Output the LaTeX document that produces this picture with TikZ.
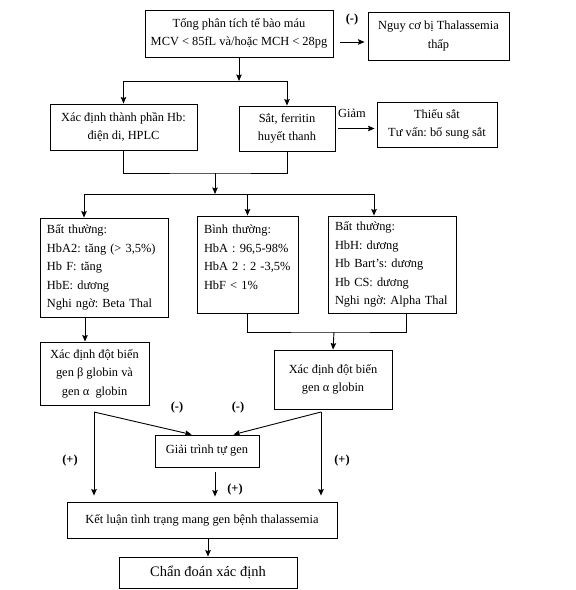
\documentclass[tikz,border=0pt]{standalone}
\usepackage{fontspec}
\setmainfont{Liberation Serif}
\frenchspacing
\usetikzlibrary{arrows.meta,positioning,calc}

\begin{document}
\begin{tikzpicture}[->,>={Stealth[length=6.5bp,width=5.5bp,inset=1bp]},
    x=1bp,y=-1bp,line width=0.9bp,
    font={\fontsize{12.4bp}{18.5bp}\selectfont\frenchspacing},
    box/.style={draw,-,align=center,inner sep=2bp},
    info box/.style={draw,-,align=left,inner xsep=7bp,inner ysep=2bp},
    sign/.style={font={\fontsize{12.4bp}{14bp}\selectfont\bfseries}}]

  \useasboundingbox (0,0) rectangle (576,590);

  % top row
  \node[box,minimum width=188bp,minimum height=47bp] (cbc) at (239,33.5)
    {Tổng phân tích tế bào máu\\MCV < 85fL và/hoặc MCH < 28pg};
  \node[box,minimum width=141bp,minimum height=48bp] (low) at (438.5,36)
    {Nguy cơ bị Thalassemia\\thấp};

  % second row
  \node[box,minimum width=147bp,minimum height=46bp] (hb) at (123.5,127)
    {Xác định thành phần Hb:\\điện di, HPLC};
  \node[box,minimum width=96bp,minimum height=45bp] (iron) at (287,128.5)
    {Sắt, ferritin\\huyết thanh};
  \node[box,minimum width=120bp,minimum height=45bp] (defic) at (437,124.5)
    {Thiếu sắt\\Tư vấn: bổ sung sắt};

  % results of Hb analysis
  \node[info box,text width=114bp,minimum height=99bp] (beta) at (104,267.5)
    {Bất thường:\\HbA2: tăng (> 3,5\%)\\Hb F: tăng\\HbE: dương\\Nghi ngờ: Beta Thal};
  \node[info box,text width=87bp,minimum height=97bp] (normal) at (247.5,264.5)
    {Bình thường:\\HbA : 96,5-98\%\\HbA 2 : 2 -3,5\%\\HbF < 1\%\\[-9.5bp]\strut};
  \node[info box,text width=114bp,minimum height=97bp] (alpha) at (392,264.5)
    {Bất thường:\\HbH: dương\\Hb Bart’s: dương\\Hb CS: dương\\Nghi ngờ: Alpha Thal};

  % gene tests
  \node[box,minimum width=109bp,minimum height=63bp] (betagene) at (94.5,373.5)
    {Xác định đột biến\\gen β globin và\\gen α\ \ globin};
  \node[box,minimum width=118bp,minimum height=59bp] (alphagene) at (333,379.5)
    {Xác định đột biến\\gen α globin};
  \node[box,minimum width=104bp,minimum height=32bp] (seq) at (207,451)
    {Giải trình tự gen};
  \node[box,minimum width=270bp,minimum height=36bp] (concl) at (202,520)
    {Kết luận tình trạng mang gen bệnh thalassemia};
  \node[box,minimum width=178bp,minimum height=31bp,
        font={\fontsize{14.5bp}{17bp}\selectfont}] (diag) at (208,572.5)
    {Chẩn đoán xác định};

  % junction points
  \coordinate (s1) at (237,81);
  \coordinate (ab) at (0,42);
  \coordinate (m1) at (215,173);
  \coordinate (m2) at (215,194);
  \coordinate (m3) at (334,332);
  \coordinate (p1) at (94,412);
  \coordinate (p2) at (321,412);

  % connectors
  \draw (cbc.south) -- (cbc.south |- s1);
  \draw[-] (hb.north |- s1) -- (iron.north |- s1);
  \draw (hb.north |- s1) -- (hb.north);
  \draw (iron.north |- s1) -- (iron.north);
  \draw[shorten <=7bp,shorten >=3bp] (cbc.east |- ab) -- (low.west |- ab);
  \draw[shorten <=3bp,shorten >=2bp] (iron.east) -- (defic.west |- iron.east);

  \draw[-] (hb.south) |- (m1) -| (iron.south);
  \draw (m1) -- (m2);
  \draw[-] ([xshift=-20bp]beta.north |- m2) -- ([xshift=-18bp]alpha.north |- m2);
  \draw ([xshift=-20bp]beta.north |- m2) -- ([xshift=-20bp]beta.north);
  \draw (normal.north |- m2) -- (normal.north);
  \draw ([xshift=-18bp]alpha.north |- m2) -- ([xshift=-18bp]alpha.north);

  \draw ([xshift=-19bp]beta.south) -- ([xshift=-19bp]beta.south |- betagene.north);
  \draw[-] (normal.south) |- (m3) -| ([xshift=14bp]alpha.south);
  \draw (m3) -- (alphagene.north);

  \draw (p1) -- ([xshift=37bp]seq.north west);
  \draw (p2) -- ([xshift=-26bp]seq.north east);
  \draw[shorten >=6bp] (p1) -- (p1 |- concl.north);
  \draw[shorten >=6bp] (p2) -- (p2 |- concl.north);
  \draw[shorten <=5bp,shorten >=5bp] ([xshift=8bp]seq.south)
    -- ([xshift=8bp]seq.south |- concl.north);
  \draw (diag.north |- concl.south) -- (diag.north);

  % labels
  \node[sign] (neg top) at (352,20) {(-)};
  \node (giam) at (352,113) {Giảm};
  \node[sign] (neg left) at (177,408) {(-)};
  \node[sign] (neg right) at (238,408) {(-)};
  \node[sign] (pos left) at (70,461) {(+)};
  \node[sign] (pos right) at (342,461) {(+)};
  \node[sign] (pos mid) at (235,490) {(+)};
\end{tikzpicture}
\end{document}
